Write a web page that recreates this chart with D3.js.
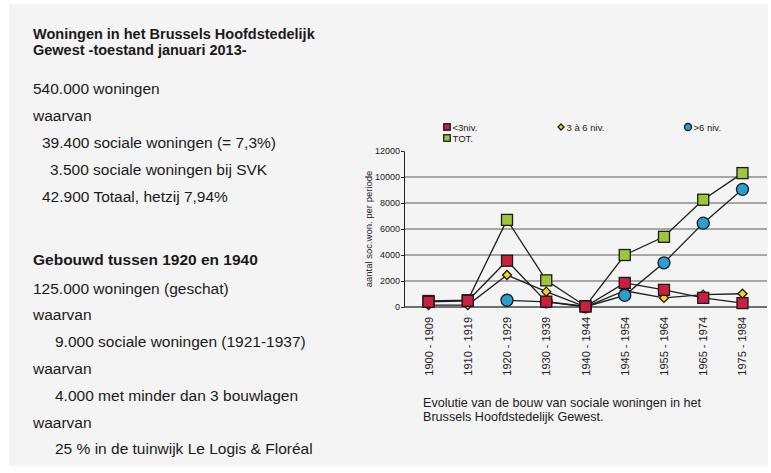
<!DOCTYPE html>
<meta charset="utf-8">
<style>
body { margin: 0; background: #fff; }
svg { display: block; font-family: "Liberation Sans", Arial, Helvetica, sans-serif; }
.grid line { stroke: #8c8c8c; stroke-width: 1.3px; }
.axis text { font-size: 9px; fill: #222; }
.axis path, .axis line { stroke: #222; }
.series path { fill: none; stroke: #1e1e1e; stroke-width: 1.3px; }
.mark { stroke: #1a1a1a; stroke-width: 1.3px; }
</style>
<body>
<script src="https://d3js.org/d3.v7.min.js"></script>
<script>

var width = 771, height = 473;

// periodes (x-as)
var periods = ["1900 - 1909", "1910 - 1919", "1920 - 1929", "1930 - 1939", "1940 - 1944",
               "1945 - 1954", "1955 - 1964", "1965 - 1974", "1975 - 1984"];
var yTicks = [0, 2000, 4000, 6000, 8000, 10000, 12000];

// aantal sociale woningen per periode
var lessThan3 = [400, 480, 3560, 410, 40, 1850, 1320, 700, 300];
var from3to6  = [150, 150, 2460, 1180, 20, 1250, 700, 950, 1020];
var moreThan6 = [null, null, 520, 400, 20, 900, 3400, 6450, 9050];
var total     = [460, 520, 6700, 2050, 60, 4000, 5400, 8250, 10300];

var seriesNames = ["<3niv.", "3 à 6 niv.", ">6 niv.", "TOT."];

// tekst links
var title = ["Woningen in het Brussels Hoofdstedelijk", "Gewest -toestand januari 2013-"];
var block1 = [
  {t: "540.000 woningen", x: 33},
  {t: "waarvan", x: 33},
  {t: "39.400 sociale woningen (= 7,3%)", x: 42},
  {t: "3.500 sociale woningen bij SVK", x: 50},
  {t: "42.900 Totaal, hetzij 7,94%", x: 42}
];
var header2 = "Gebouwd tussen 1920 en 1940";
var block2 = [
  {t: "125.000 woningen (geschat)", x: 33},
  {t: "waarvan", x: 33},
  {t: "9.000 sociale woningen (1921-1937)", x: 55},
  {t: "waarvan", x: 33},
  {t: "4.000 met minder dan 3 bouwlagen", x: 55},
  {t: "waarvan", x: 33},
  {t: "25 % in de tuinwijk Le Logis & Floréal", x: 55}
];
var caption = ["Evolutie van de bouw van sociale woningen in het", "Brussels Hoofdstedelijk Gewest."];

var svg = d3.select("body").append("svg")
  .attr("width", width)
  .attr("height", height);

svg.append("rect")
  .attr("x", 9).attr("y", 4)
  .attr("width", 759).attr("height", 462)
  .attr("fill", "#f4f4f4");

/* ------- LEFT TEXT -------*/
var left = svg.append("g").attr("fill", "#1a1a1a");

left.selectAll("text.title")
  .data(title)
  .enter().append("text")
  .attr("class", "title")
  .attr("x", 33)
  .attr("y", function(d, i) { return 39 + i * 15.5; })
  .attr("font-size", "14.5px")
  .attr("font-weight", "bold")
  .text(function(d) { return d; });

left.selectAll("text.b1")
  .data(block1)
  .enter().append("text")
  .attr("class", "b1")
  .attr("x", function(d) { return d.x; })
  .attr("y", function(d, i) { return 94 + i * 27; })
  .attr("font-size", "15.5px")
  .text(function(d) { return d.t; });

left.append("text")
  .attr("x", 33).attr("y", 265)
  .attr("font-size", "15.5px")
  .attr("font-weight", "bold")
  .text(header2);

left.selectAll("text.b2")
  .data(block2)
  .enter().append("text")
  .attr("class", "b2")
  .attr("x", function(d) { return d.x; })
  .attr("y", function(d, i) { return 293.5 + i * 26.8; })
  .attr("font-size", "15.5px")
  .text(function(d) { return d.t; });

/* ------- CHART -------*/
var x = d3.scalePoint()
  .domain(periods)
  .range([404, 767])
  .padding(0.625);

var y = d3.scaleLinear()
  .domain([0, 12000])
  .range([307, 151]);

var chart = svg.append("g");

chart.append("g")
  .attr("class", "grid")
  .selectAll("line")
  .data(yTicks.filter(function(d) { return d > 0 && d < 12000; }))
  .enter().append("line")
  .attr("x1", 404).attr("x2", 767)
  .attr("y1", function(d) { return y(d); })
  .attr("y2", function(d) { return y(d); });

chart.append("line")
  .attr("x1", 404).attr("x2", 767)
  .attr("y1", y(0)).attr("y2", y(0))
  .attr("stroke", "#444").attr("stroke-width", 1.4);

chart.append("g")
  .attr("class", "axis")
  .attr("transform", "translate(404,0)")
  .call(d3.axisLeft(y).tickValues(yTicks).tickSize(3).tickSizeOuter(0).tickPadding(1)
    .tickFormat(d3.format("d")));

chart.append("text")
  .attr("transform", "translate(372," + y(6000) + ") rotate(-90)")
  .attr("text-anchor", "middle")
  .attr("font-size", "9.5px")
  .attr("fill", "#222")
  .text("aantal soc.won. per periode");

chart.append("g")
  .selectAll("text")
  .data(periods)
  .enter().append("text")
  .attr("transform", function(d) { return "translate(" + (x(d) + 4) + ",317) rotate(-90)"; })
  .attr("text-anchor", "end")
  .attr("font-size", "11px")
  .attr("fill", "#222")
  .text(function(d) { return d; });

var series = [
  {name: seriesNames[3], values: total, color: "#9bc83a", shape: "square", size: 11},
  {name: seriesNames[1], values: from3to6, color: "#f2d21a", shape: "diamond", size: 9},
  {name: seriesNames[2], values: moreThan6, color: "#2aa0d2", shape: "circle", size: 12},
  {name: seriesNames[0], values: lessThan3, color: "#cc1f3d", shape: "square", size: 11}
];

var line = d3.line()
  .defined(function(d) { return d.v != null; })
  .x(function(d) { return x(d.p); })
  .y(function(d) { return y(d.v); });

function pts(s) {
  return s.values.map(function(v, i) { return {p: periods[i], v: v}; });
}

chart.append("g").attr("class", "series")
  .selectAll("path")
  .data(series)
  .enter().append("path")
  .attr("d", function(s) { return line(pts(s)); });

function drawMark(g, shape, size, color) {
  if (shape === "square") {
    g.append("rect").attr("class", "mark")
      .attr("x", -size / 2).attr("y", -size / 2)
      .attr("width", size).attr("height", size)
      .attr("fill", color);
  } else if (shape === "circle") {
    g.append("circle").attr("class", "mark")
      .attr("r", size / 2).attr("fill", color);
  } else {
    var h = size / 2;
    g.append("path").attr("class", "mark")
      .attr("d", "M0," + (-h) + "L" + h + ",0L0," + h + "L" + (-h) + ",0Z")
      .attr("fill", color);
  }
}

series.forEach(function(s) {
  chart.append("g")
    .selectAll("g")
    .data(pts(s).filter(function(d) { return d.v != null; }))
    .enter().append("g")
    .attr("transform", function(d) { return "translate(" + x(d.p) + "," + y(d.v) + ")"; })
    .each(function() { drawMark(d3.select(this), s.shape, s.size, s.color); });
});

/* ------- LEGEND -------*/
var legend = [
  {s: series[3], x: 447, y: 127},
  {s: series[1], x: 561, y: 127},
  {s: series[2], x: 688, y: 127},
  {s: series[0], x: 447, y: 138}
];

var lg = chart.append("g").selectAll("g")
  .data(legend)
  .enter().append("g")
  .attr("transform", function(d) { return "translate(" + d.x + "," + d.y + ")"; });

lg.each(function(d) {
  var g = d3.select(this);
  var sz = d.s.shape === "circle" ? 7 : (d.s.shape === "diamond" ? 6 : 6.5);
  drawMark(g, d.s.shape, sz, d.s.color);
  g.selectAll(".mark").attr("stroke-width", 1);
  g.append("text")
    .attr("x", 5.5).attr("y", 3.5)
    .attr("font-size", "9.5px")
    .attr("fill", "#222")
    .text(d.s.name);
});

/* ------- CAPTION -------*/
svg.append("g").selectAll("text")
  .data(caption)
  .enter().append("text")
  .attr("x", 423)
  .attr("y", function(d, i) { return 407 + i * 14; })
  .attr("font-size", "12.6px")
  .attr("fill", "#1a1a1a")
  .text(function(d) { return d; });

</script>
</body>
